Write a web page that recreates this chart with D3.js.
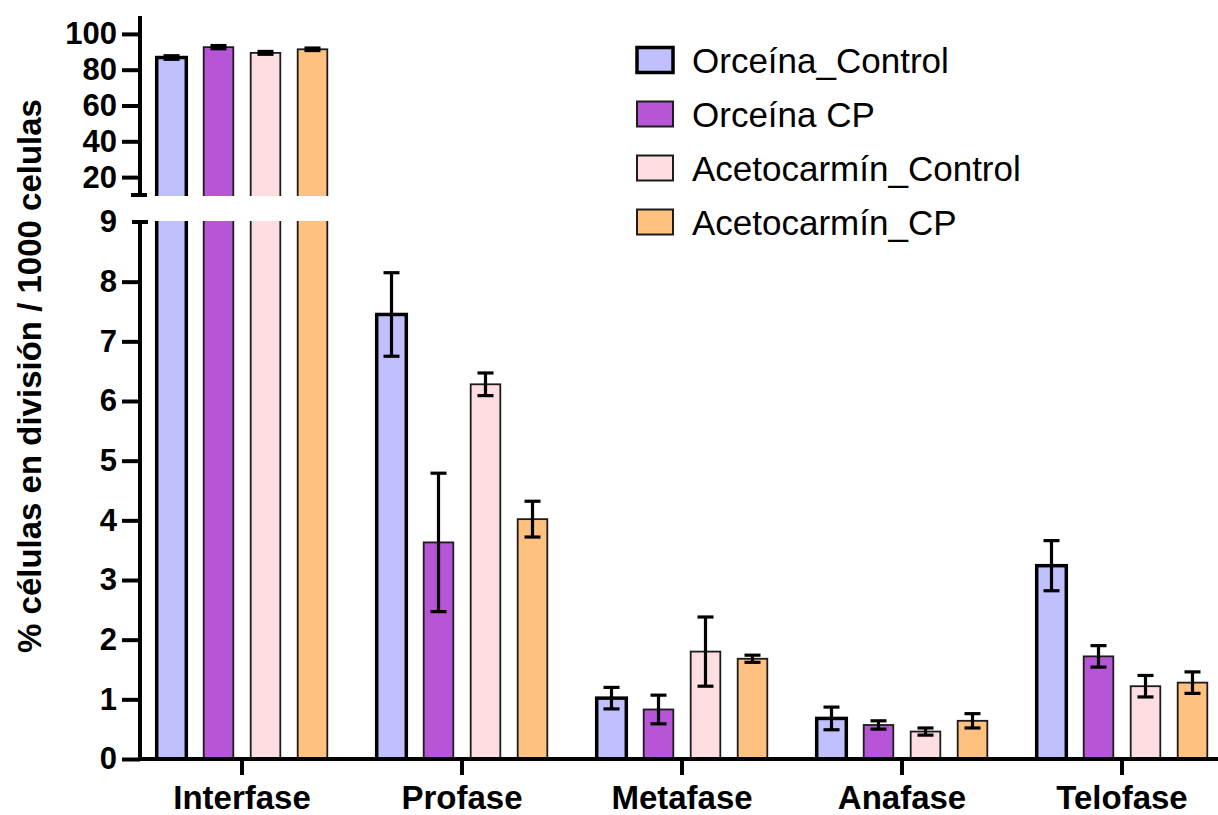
<!DOCTYPE html>
<html>
<head>
<meta charset="utf-8">
<script src="https://cdn.jsdelivr.net/npm/d3@7"></script>
<style>
  body { margin: 0; background: #fff; }
  text { font-family: "Liberation Sans", Arial, Helvetica, sans-serif; }
</style>
</head>
<body>
<svg id="chart" width="1218" height="815"></svg>
<script>
// Mitotic phases and staining treatments
const phases = ["Interfase", "Profase", "Metafase", "Anafase", "Telofase"];
const seriesNames = ["Orceína_Control", "Orceína CP", "Acetocarmín_Control", "Acetocarmín_CP"];

// Mean % of cells per phase (per 1000 cells), one array per treatment
const orceinaControl      = [86.8, 7.45, 1.02, 0.68, 3.24];
const orceinaCP           = [92.6, 3.63, 0.83, 0.57, 1.72];
const acetocarminControl  = [89.4, 6.28, 1.80, 0.46, 1.22];
const acetocarminCP       = [91.4, 4.02, 1.68, 0.64, 1.28];

// Error (± half-range) for each mean
const orceinaControlErr     = [1.0, 0.70, 0.18, 0.19, 0.42];
const orceinaCPErr          = [0.9, 1.16, 0.24, 0.07, 0.18];
const acetocarminControlErr = [0.8, 0.19, 0.58, 0.06, 0.18];
const acetocarminCPErr      = [0.7, 0.30, 0.06, 0.12, 0.18];

// Axis ticks for the two segments of the broken y axis
const lowerTicks = [0, 1, 2, 3, 4, 5, 6, 7, 8, 9];
const upperTicks = [20, 40, 60, 80, 100];

const fills   = ["#C0C0FF", "#B656D6", "#FFDEE2", "#FFC180"];
const strokes = ["#000000", "#1c1c1c", "#1c1c1c", "#1c1c1c"];
const strokeW = [3.5, 1.8, 1.8, 1.8];

const means = [orceinaControl, orceinaCP, acetocarminControl, acetocarminCP];
const errs  = [orceinaControlErr, orceinaCPErr, acetocarminControlErr, acetocarminCPErr];

const rows = [];
phases.forEach((p, pi) => {
  seriesNames.forEach((s, si) => {
    rows.push({ phase: p, series: s, si, value: means[si][pi], err: errs[si][pi] });
  });
});

const svg = d3.select("#chart");
svg.append("rect").attr("width", 1218).attr("height", 815).attr("fill", "#fff");

const axisX = 140;
const lowerBreak = 9;          // top of the lower segment
const upperBreak = 10;         // bottom of the upper segment

const x0 = d3.scaleBand().domain(phases).range([132, 1232]).padding(0);
const x1 = d3.scaleBand().domain(seriesNames).range([16, 204]).paddingInner(0.37).paddingOuter(0.185);

const yLow = d3.scaleLinear().domain([0, 9]).range([759, 222]);
const yUp  = d3.scaleLinear().domain([10, 110]).range([195, 16]);

const defs = svg.append("defs");
defs.append("clipPath").attr("id", "clipLow")
  .append("rect").attr("x", 0).attr("y", 221).attr("width", 1218).attr("height", 600);
defs.append("clipPath").attr("id", "clipUp")
  .append("rect").attr("x", 0).attr("y", 0).attr("width", 1218).attr("height", 196);

// ---- bars, lower segment ----
const gLow = svg.append("g").attr("clip-path", "url(#clipLow)");
gLow.selectAll("rect.bar")
  .data(rows)
  .join("rect")
  .attr("class", "bar")
  .attr("x", d => x0(d.phase) + x1(d.series))
  .attr("width", x1.bandwidth())
  .attr("y", d => yLow(Math.min(d.value, lowerBreak + 0.3)))
  .attr("height", d => yLow(0) - yLow(Math.min(d.value, lowerBreak + 0.3)))
  .attr("fill", d => fills[d.si])
  .attr("stroke", d => strokes[d.si])
  .attr("stroke-width", d => strokeW[d.si]);

// ---- bars, upper segment ----
const tall = rows.filter(d => d.value > lowerBreak);
const gUp = svg.append("g").attr("clip-path", "url(#clipUp)");
gUp.selectAll("rect.bar")
  .data(tall)
  .join("rect")
  .attr("class", "bar")
  .attr("x", d => x0(d.phase) + x1(d.series))
  .attr("width", x1.bandwidth())
  .attr("y", d => yUp(d.value))
  .attr("height", d => yUp(upperBreak - 2) - yUp(d.value))
  .attr("fill", d => fills[d.si])
  .attr("stroke", d => strokes[d.si])
  .attr("stroke-width", d => strokeW[d.si]);

// ---- error bars ----
const cap = 8;
function drawErr(g, data, y) {
  const e = g.selectAll("g.err").data(data).join("g").attr("class", "err")
    .attr("stroke", "#000").attr("stroke-width", 3.2);
  const cx = d => x0(d.phase) + x1(d.series) + x1.bandwidth() / 2;
  e.append("line").attr("x1", cx).attr("x2", cx)
    .attr("y1", d => y(d.value + d.err)).attr("y2", d => y(d.value - d.err));
  e.append("line").attr("x1", d => cx(d) - cap).attr("x2", d => cx(d) + cap)
    .attr("y1", d => y(d.value + d.err)).attr("y2", d => y(d.value + d.err));
  e.append("line").attr("x1", d => cx(d) - cap).attr("x2", d => cx(d) + cap)
    .attr("y1", d => y(d.value - d.err)).attr("y2", d => y(d.value - d.err));
}
drawErr(svg.append("g"), rows.filter(d => d.value <= lowerBreak), yLow);
drawErr(svg.append("g"), tall, yUp);

// ---- y axis, lower segment ----
const axLow = svg.append("g").attr("transform", `translate(${axisX},0)`)
  .call(d3.axisLeft(yLow).tickValues(lowerTicks.filter(t => t < lowerBreak))
    .tickSize(18).tickPadding(5).tickFormat(d3.format("d")));
axLow.select(".domain").remove();
axLow.selectAll(".tick line").attr("stroke", "#000").attr("stroke-width", 4);
axLow.selectAll(".tick text")
  .attr("font-size", 31).attr("font-weight", "bold").attr("fill", "#000");
axLow.append("line").attr("x1", 0).attr("x2", 0)
  .attr("y1", yLow(lowerBreak)).attr("y2", yLow(0) + 2)
  .attr("stroke", "#000").attr("stroke-width", 4);
// break cap and label at the top of the lower segment
axLow.append("line").attr("x1", -8).attr("x2", 8)
  .attr("y1", yLow(lowerBreak)).attr("y2", yLow(lowerBreak))
  .attr("stroke", "#000").attr("stroke-width", 4);
axLow.append("text").attr("x", -23).attr("y", yLow(lowerBreak)).attr("dy", "0.32em")
  .attr("text-anchor", "end").attr("font-size", 31).attr("font-weight", "bold")
  .attr("fill", "#000")
  .text(lowerTicks[lowerTicks.length - 1]);

// ---- y axis, upper segment ----
const axUp = svg.append("g").attr("transform", `translate(${axisX},0)`)
  .call(d3.axisLeft(yUp).tickValues(upperTicks).tickSize(18).tickPadding(5).tickFormat(d3.format("d")));
axUp.select(".domain").remove();
axUp.selectAll(".tick line").attr("stroke", "#000").attr("stroke-width", 4);
axUp.selectAll(".tick text")
  .attr("font-size", 31).attr("font-weight", "bold").attr("fill", "#000");
axUp.append("line").attr("x1", 0).attr("x2", 0)
  .attr("y1", yUp(110)).attr("y2", yUp(upperBreak))
  .attr("stroke", "#000").attr("stroke-width", 4);
axUp.append("line").attr("x1", -9).attr("x2", 7)
  .attr("y1", yUp(upperBreak)).attr("y2", yUp(upperBreak))
  .attr("stroke", "#000").attr("stroke-width", 4);

// ---- x axis ----
const axX = svg.append("g").attr("transform", `translate(0,${yLow(0)})`)
  .call(d3.axisBottom(x0).tickSize(16).tickPadding(11));
axX.select(".domain").remove();
axX.append("line").attr("x1", axisX - 2).attr("x2", 1218)
  .attr("stroke", "#000").attr("stroke-width", 4);
axX.selectAll(".tick line").attr("stroke", "#000").attr("stroke-width", 4);
axX.selectAll(".tick text")
  .attr("font-size", 33).attr("font-weight", "bold").attr("fill", "#000");

// ---- y axis title ----
svg.append("text")
  .attr("transform", "translate(41,376) rotate(-90)")
  .attr("text-anchor", "middle")
  .attr("font-size", 33).attr("font-weight", "bold")
  .text("% células en división / 1000 celulas");

// ---- legend ----
const legend = svg.append("g").attr("transform", "translate(637,60)");
const item = legend.selectAll("g").data(seriesNames).join("g")
  .attr("transform", (d, i) => `translate(0,${i * 54})`);
item.append("rect")
  .attr("x", 0).attr("y", -12.5).attr("width", 36).attr("height", 25)
  .attr("fill", (d, i) => fills[i])
  .attr("stroke", (d, i) => strokes[i])
  .attr("stroke-width", (d, i) => i === 0 ? 3.5 : 2);
item.append("text")
  .attr("x", 55).attr("y", 12.5)
  .attr("font-size", 35)
  .attr("fill", "#000")
  .text(d => d);
</script>
</body>
</html>
